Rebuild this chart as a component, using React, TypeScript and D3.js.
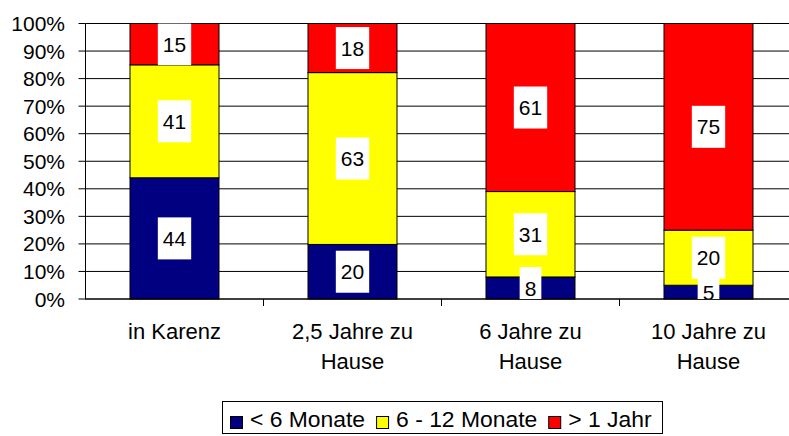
import { useEffect, useRef } from "react";
import * as d3 from "d3";

const categories = ["in Karenz", "2,5 Jahre zu Hause", "6 Jahre zu Hause", "10 Jahre zu Hause"];
const categoryLines = [["in Karenz"], ["2,5 Jahre zu", "Hause"], ["6 Jahre zu", "Hause"], ["10 Jahre zu", "Hause"]];
const seriesNames = ["< 6 Monate", "6 - 12 Monate", "> 1 Jahr"];
const seriesColors = ["#000080", "#ffff00", "#ff0000"];
const under6 = [44, 20, 8, 5];
const m6to12 = [41, 63, 31, 20];
const over1 = [15, 18, 61, 75];
const yTicks = [0, 10, 20, 30, 40, 50, 60, 70, 80, 90, 100];

const FONT = "'Liberation Sans', Arial, sans-serif";

export default function App() {
    const svgRef = useRef<SVGSVGElement>(null);

    useEffect(() => {
        if (!svgRef.current) return;
        const svg = d3.select(svgRef.current);
        svg.selectAll("*").remove();

        const left = 85.5;
        const right = 797.5;
        const top = 23.5;
        const bottom = 299;

        const rows = categories.map((c, i) => ({
            cat: c,
            s0: under6[i],
            s1: m6to12[i],
            s2: over1[i],
        }));
        const keys = ["s0", "s1", "s2"];
        // 100% stacked
        const stacked = d3.stack<any>().keys(keys).offset(d3.stackOffsetExpand)(rows);

        const x = d3.scaleBand().domain(categories).range([left, right]).paddingInner(0.5).paddingOuter(0.25);
        const y = d3.scaleLinear().domain([0, 1]).range([bottom, top]);

        svg.append("defs").append("clipPath").attr("id", "plotclip")
            .append("rect").attr("x", left).attr("y", top).attr("width", right - left).attr("height", bottom - top);

        // gridlines
        svg.append("g").selectAll("line").data(yTicks).enter().append("line")
            .attr("x1", left).attr("x2", right)
            .attr("y1", (d) => y(d / 100)).attr("y2", (d) => y(d / 100))
            .attr("stroke", "#000").attr("stroke-width", 1);

        // bars
        const layers = svg.append("g").selectAll("g").data(stacked).enter().append("g")
            .attr("fill", (_d, i) => seriesColors[i]);
        layers.selectAll("rect").data((d) => d).enter().append("rect")
            .attr("x", (d) => x(d.data.cat)!)
            .attr("width", x.bandwidth())
            .attr("y", (d) => y(d[1]))
            .attr("height", (d) => y(d[0]) - y(d[1]))
            .attr("stroke", "#000").attr("stroke-width", 1);

        // axes
        svg.append("line").attr("x1", left).attr("x2", left).attr("y1", top).attr("y2", bottom + 0.5)
            .attr("stroke", "#000");
        svg.append("line").attr("x1", left).attr("x2", right).attr("y1", bottom).attr("y2", bottom)
            .attr("stroke", "#000");
        svg.append("g").selectAll("line").data(yTicks).enter().append("line")
            .attr("x1", left - 7).attr("x2", left)
            .attr("y1", (d) => y(d / 100)).attr("y2", (d) => y(d / 100))
            .attr("stroke", "#000");
        const step = x.step();
        svg.append("g").selectAll("line").data(categories.slice(1)).enter().append("line")
            .attr("x1", (d) => x(d)! - step * 0.25).attr("x2", (d) => x(d)! - step * 0.25)
            .attr("y1", bottom).attr("y2", bottom + 7)
            .attr("stroke", "#000");

        // y tick labels
        svg.append("g").selectAll("text").data(yTicks).enter().append("text")
            .attr("x", 65).attr("y", (d) => y(d / 100))
            .attr("dy", "0.36em")
            .attr("text-anchor", "end")
            .attr("font-family", FONT).attr("font-size", 21)
            .text((d) => `${d}%`);

        // category labels
        categoryLines.forEach((lines, i) => {
            const cx = x(categories[i])! + x.bandwidth() / 2;
            lines.forEach((ln, j) => {
                svg.append("text")
                    .attr("x", cx).attr("y", 339 + j * 30)
                    .attr("text-anchor", "middle")
                    .attr("font-family", FONT).attr("font-size", 22)
                    .text(ln);
            });
        });

        // value labels with white boxes
        const lab = svg.append("g").attr("clip-path", "url(#plotclip)");
        stacked.forEach((layer, si) => {
            const vals = [under6, m6to12, over1][si];
            layer.forEach((d, ci) => {
                const cx = x(d.data.cat)! + x.bandwidth() / 2;
                const cy = (y(d[0]) + y(d[1])) / 2;
                const g = lab.append("g");
                const r = g.append("rect").attr("fill", "#fff");
                const t = g.append("text")
                    .attr("x", cx).attr("y", cy).attr("dy", "0.36em")
                    .attr("text-anchor", "middle")
                    .attr("font-family", FONT).attr("font-size", 21)
                    .text(String(vals[ci]));
                const w = (t.node() as SVGTextElement).getComputedTextLength() + 10;
                r.attr("x", cx - w / 2).attr("y", cy - 21).attr("width", w).attr("height", 42);
            });
        });

        // legend
        const lg = svg.append("g");
        const box = lg.append("rect").attr("x", 222.5).attr("y", 401.5).attr("height", 32)
            .attr("fill", "#fff").attr("stroke", "#000");
        let lx = 230;
        const sx = 1.04;
        seriesNames.forEach((name, i) => {
            lg.append("rect").attr("x", lx + 0.5).attr("y", 416.5).attr("width", 12).attr("height", 12)
                .attr("fill", seriesColors[i]).attr("stroke", "#000");
            const t = lg.append("text")
                .attr("transform", `translate(${lx + 20},427) scale(${sx},1)`)
                .attr("font-family", FONT).attr("font-size", 22)
                .text(name);
            const tw = (t.node() as SVGTextElement).getComputedTextLength() * sx;
            lx = lx + 20 + tw + 11;
        });
        box.attr("width", lx - 222.5);
    }, []);

    return (
        <svg ref={svgRef} width={789} height={436}
            style={{ position: "absolute", left: 0, top: 0, background: "#fff" }} />
    );
}
